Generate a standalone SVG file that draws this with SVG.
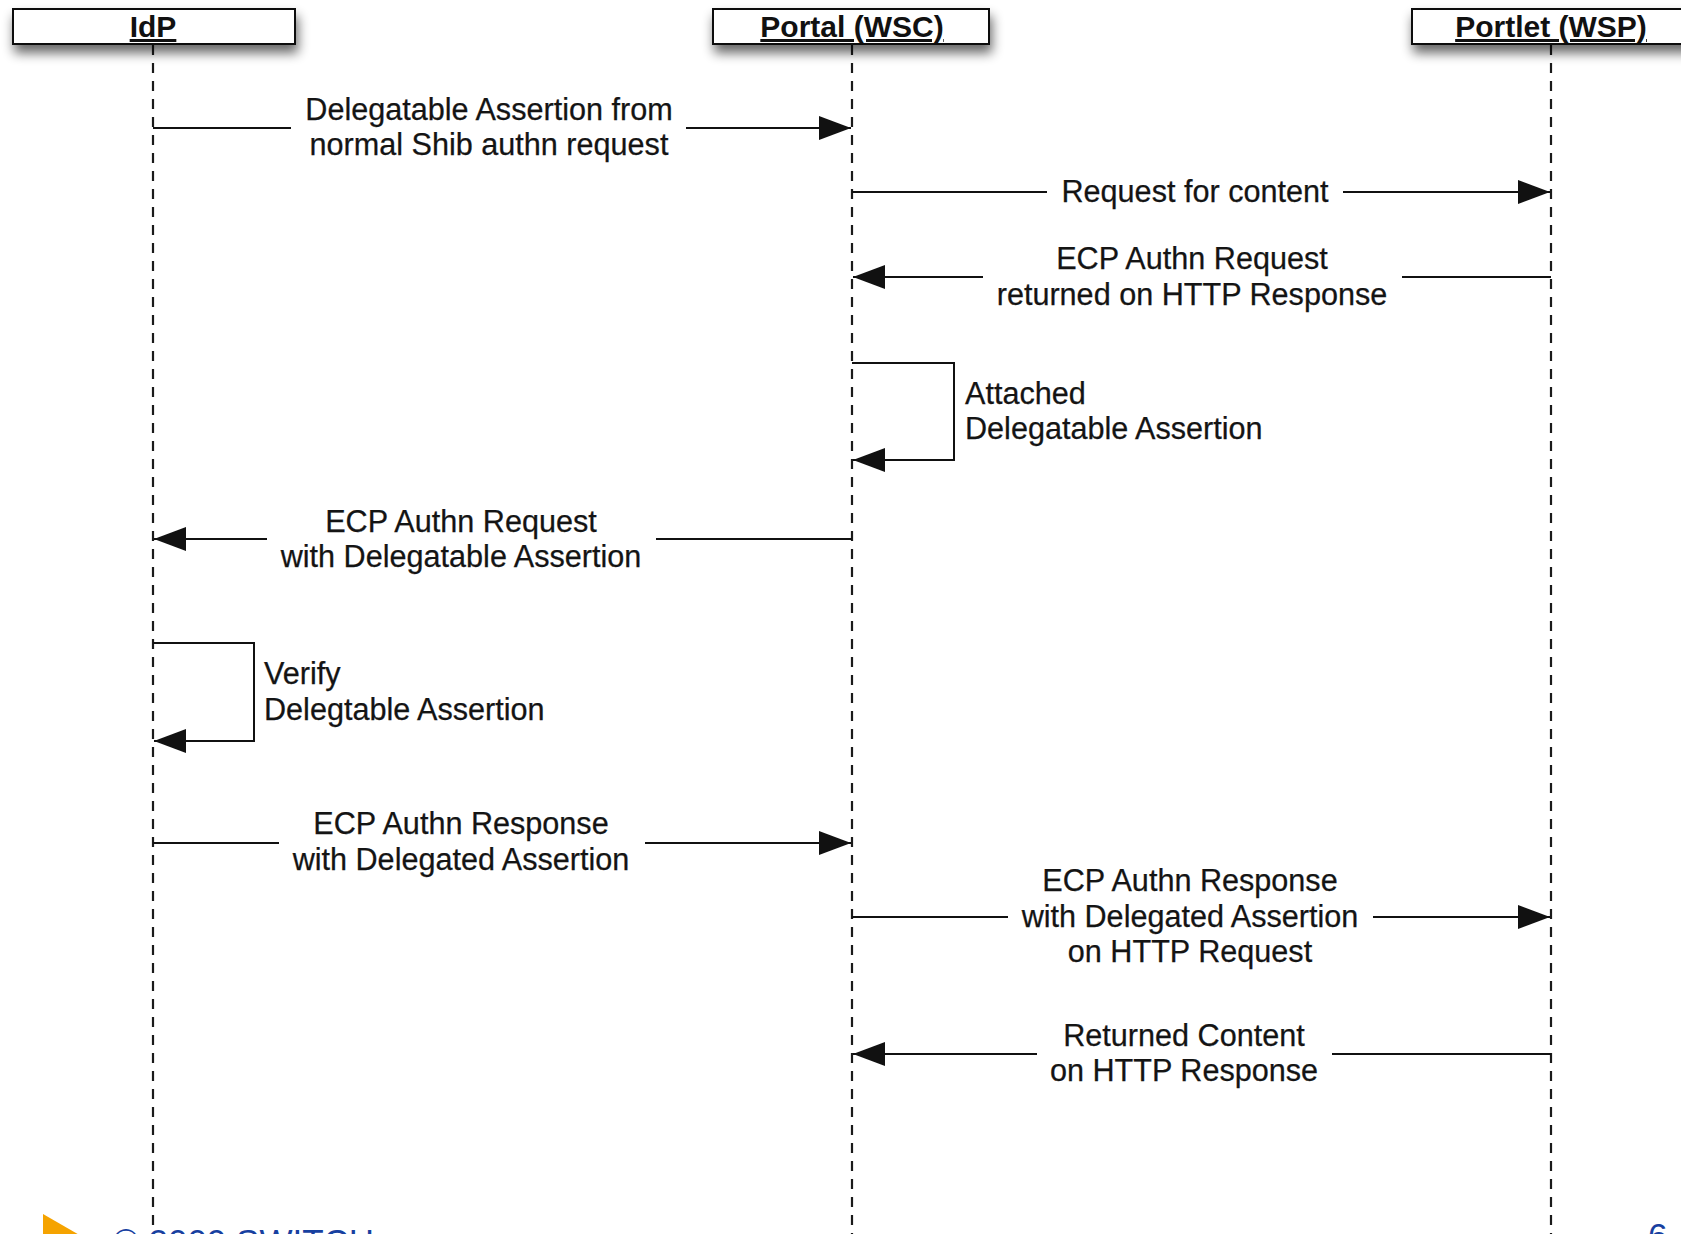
<svg xmlns="http://www.w3.org/2000/svg" width="1681" height="1234" viewBox="0 0 1681 1234">
  <style>
    .hdr { fill: #ffffff; stroke: #111111; stroke-width: 2; }
    .hdrtxt { font-family: "Liberation Sans", Arial, sans-serif; font-size: 30px; font-weight: bold; fill: #111111; text-anchor: middle; text-decoration: underline; }
    .life { stroke: #1a1a1a; stroke-width: 2.2; stroke-dasharray: 10 8; fill: none; }
    .msg { stroke: #111111; stroke-width: 2; fill: none; }
    .lbl { font-family: "Liberation Sans", Arial, sans-serif; font-size: 30.6px; fill: #141414; text-anchor: middle; stroke: #141414; stroke-width: 0.25; }
    .lbll { font-family: "Liberation Sans", Arial, sans-serif; font-size: 30.6px; fill: #141414; text-anchor: start; stroke: #141414; stroke-width: 0.25; }
    .foot { font-family: "Liberation Sans", Arial, sans-serif; font-size: 35px; fill: #1740a0; }
  </style>
  <defs>
    <marker id="arrow" markerUnits="userSpaceOnUse" markerWidth="33" markerHeight="25" refX="32" refY="12" orient="auto">
      <path d="M0,0 L32,12 L0,24 z" fill="#111111"/>
    </marker>
    <filter id="shadow" x="-10%" y="-40%" width="120%" height="220%">
      <feGaussianBlur in="SourceAlpha" stdDeviation="6"/>
      <feOffset dx="2" dy="8" result="b"/>
      <feComponentTransfer><feFuncA type="linear" slope="0.6"/></feComponentTransfer>
      <feMerge><feMergeNode/><feMergeNode in="SourceGraphic"/></feMerge>
    </filter>
  </defs>
  <rect width="1681" height="1234" fill="#ffffff"/>

  <g id="lifelines">
    <line class="life" x1="153" y1="45" x2="153" y2="1234"/>
    <line class="life" x1="852" y1="45" x2="852" y2="1234"/>
    <line class="life" x1="1551" y1="45" x2="1551" y2="1234"/>
  </g>

  <g id="node-idp">
    <rect class="hdr" x="13" y="9" width="282" height="35" filter="url(#shadow)"/>
    <text class="hdrtxt" x="153" y="37">IdP</text>
  </g>
  <g id="node-portal">
    <rect class="hdr" x="713" y="9" width="276" height="35" filter="url(#shadow)"/>
    <text class="hdrtxt" x="852" y="37">Portal (WSC)</text>
  </g>
  <g id="node-portlet">
    <rect class="hdr" x="1412" y="9" width="290" height="35" filter="url(#shadow)"/>
    <text class="hdrtxt" x="1551" y="37">Portlet (WSP)</text>
  </g>

  <g id="connectors">
    <line class="msg" x1="153" y1="128" x2="291" y2="128"/>
    <line class="msg" x1="686" y1="128" x2="851" y2="128" marker-end="url(#arrow)"/>
    <line class="msg" x1="852" y1="192" x2="1047" y2="192"/>
    <line class="msg" x1="1343" y1="192" x2="1550" y2="192" marker-end="url(#arrow)"/>
    <line class="msg" x1="1551" y1="277" x2="1402" y2="277"/>
    <line class="msg" x1="983" y1="277" x2="853" y2="277" marker-end="url(#arrow)"/>
    <path class="msg" d="M852,363 L954,363 L954,460 L853,460" marker-end="url(#arrow)"/>
    <line class="msg" x1="852" y1="539" x2="656" y2="539"/>
    <line class="msg" x1="267" y1="539" x2="154" y2="539" marker-end="url(#arrow)"/>
    <path class="msg" d="M153,643 L254,643 L254,741 L154,741" marker-end="url(#arrow)"/>
    <line class="msg" x1="153" y1="843" x2="279" y2="843"/>
    <line class="msg" x1="645" y1="843" x2="851" y2="843" marker-end="url(#arrow)"/>
    <line class="msg" x1="852" y1="917" x2="1008" y2="917"/>
    <line class="msg" x1="1373" y1="917" x2="1550" y2="917" marker-end="url(#arrow)"/>
    <line class="msg" x1="1551" y1="1054" x2="1332" y2="1054"/>
    <line class="msg" x1="1037" y1="1054" x2="853" y2="1054" marker-end="url(#arrow)"/>
  </g>

  <g id="labels">
    <text class="lbl" x="489" y="120">Delegatable Assertion from</text>
    <text class="lbl" x="489" y="155">normal Shib authn request</text>

    <text class="lbl" x="1195" y="202">Request for content</text>

    <text class="lbl" x="1192" y="269">ECP Authn Request</text>
    <text class="lbl" x="1192" y="305">returned on HTTP Response</text>

    <text class="lbll" x="965" y="404">Attached</text>
    <text class="lbll" x="965" y="439">Delegatable Assertion</text>

    <text class="lbl" x="461" y="532">ECP Authn Request</text>
    <text class="lbl" x="461" y="567">with Delegatable Assertion</text>

    <text class="lbll" x="264" y="684">Verify</text>
    <text class="lbll" x="264" y="720">Delegtable Assertion</text>

    <text class="lbl" x="461" y="834">ECP Authn Response</text>
    <text class="lbl" x="461" y="870">with Delegated Assertion</text>

    <text class="lbl" x="1190" y="891">ECP Authn Response</text>
    <text class="lbl" x="1190" y="927">with Delegated Assertion</text>
    <text class="lbl" x="1190" y="962">on HTTP Request</text>

    <text class="lbl" x="1184" y="1046">Returned Content</text>
    <text class="lbl" x="1184" y="1081">on HTTP Response</text>
  </g>

  <g id="footer">
    <polygon points="43,1214 95,1244 43,1274" fill="#f5a300"/>
    <text class="foot" x="113" y="1254">© 2009 SWITCH</text>
    <text class="foot" x="1648" y="1248">6</text>
  </g>
</svg>
